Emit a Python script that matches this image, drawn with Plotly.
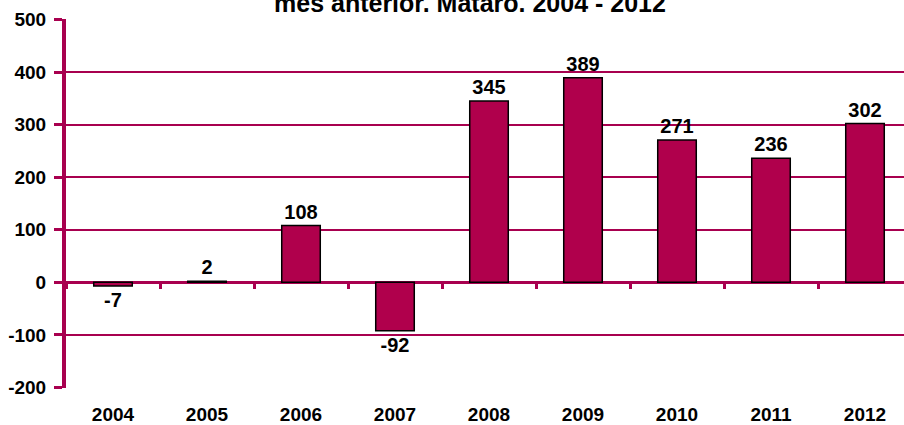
import plotly.graph_objects as go

years = ["2004", "2005", "2006", "2007", "2008", "2009", "2010", "2011", "2012"]
values = [-7, 2, 108, -92, 345, 389, 271, 236, 302]
title_text = "mes anterior. Mataró. 2004 - 2012"
y_ticks = [-200, -100, 0, 100, 200, 300, 400, 500]
y_tick_text = ["-200", "-100", "0", "100", "200", "300", "400", "500"]

axis_color = "#A8004F"
bar_color = "#B0004C"
font_family = "Liberation Sans, Arial, sans-serif"

W, H = 904, 425
ml, mr, mt, mb = 66, 0, 19, 37
plot_w = W - ml - mr
plot_h = H - mt - mb
cat_px = 94.0
x_range = [-0.5, -0.5 + plot_w / cat_px]
y_range = [-201, 501]
zero_frac = (0 - y_range[0]) / (y_range[1] - y_range[0])

fig = go.Figure()
fig.add_trace(go.Bar(
    x=years, y=values,
    width=0.41,
    marker=dict(color=bar_color, line=dict(color="#000000", width=1.5)),
    text=[str(v) for v in values],
    textposition="outside",
    textfont=dict(family=font_family, size=20, color="#000000", weight="bold"),
    cliponaxis=False,
    showlegend=False,
))
fig.add_trace(go.Scatter(
    x=years, y=[None] * len(years), xaxis="x2", mode="markers",
    showlegend=False, hoverinfo="skip",
))

fig.update_layout(
    width=W, height=H,
    margin=dict(l=ml, r=mr, t=mt, b=mb, pad=0),
    paper_bgcolor="white", plot_bgcolor="white",
    font=dict(family=font_family, size=19, color="#000000"),
    xaxis=dict(
        type="category", categoryorder="array", categoryarray=years,
        range=x_range, showgrid=False, zeroline=False, showline=False,
        ticks="", automargin=False,
        tickfont=dict(family=font_family, size=19, color="#000000", weight="bold"),
        ticklabelstandoff=13,
    ),
    xaxis2=dict(
        type="category", categoryorder="array", categoryarray=years,
        range=x_range, overlaying="x", anchor="free", position=zero_frac,
        side="bottom", automargin=False,
        showgrid=False, zeroline=False, showline=False, showticklabels=False,
        ticks="outside", tickson="boundaries", ticklen=6, tickwidth=3,
        tickcolor=axis_color,
    ),
    yaxis=dict(
        range=y_range, tickvals=y_ticks, ticktext=y_tick_text, automargin=False,
        showgrid=True, gridcolor=axis_color, gridwidth=2,
        zeroline=True, zerolinecolor=axis_color, zerolinewidth=3,
        showline=True, linecolor=axis_color, linewidth=4,
        ticks="outside", ticklen=8, tickwidth=3, tickcolor=axis_color,
        ticklabelstandoff=4,
        tickfont=dict(family=font_family, size=19, color="#000000", weight="bold"),
    ),
    annotations=[dict(
        text="<b>" + title_text + "</b>",
        xref="paper", yref="paper",
        x=(470 - ml) / plot_w, y=1.0,
        xanchor="center", yanchor="bottom", showarrow=False,
        font=dict(family=font_family, size=25, color="#000000"),
    )],
)

fig.write_html("out.html", config={"displayModeBar": False},
               post_script="document.body.style.margin='0px';")
